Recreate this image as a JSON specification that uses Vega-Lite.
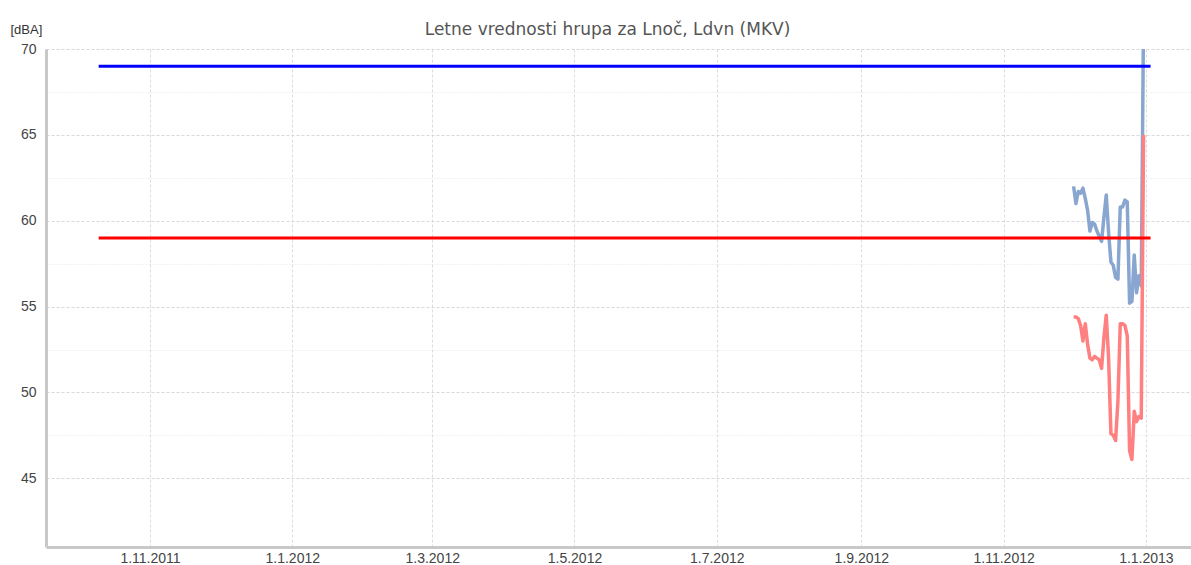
{
  "$schema": "https://vega.github.io/schema/vega-lite/v6.json",
  "width": 1145,
  "height": 498,
  "autosize": {"type": "none"},
  "padding": {"left": 46, "top": 49, "right": 0, "bottom": 18},
  "background": "#ffffff",
  "config": {
    "view": {"stroke": null},
    "font": "DejaVu Sans"
  },
  "title": {
    "text": "Letne vrednosti hrupa za Lnoč, Ldvn (MKV)",
    "font": "DejaVu Sans",
    "fontSize": 17,
    "fontWeight": "normal",
    "color": "#555555",
    "anchor": "middle",
    "baseline": "alphabetic",
    "offset": -29,
    "dx": -11
  },
  "datasets": {
    "meritve": [
      {"datum": "2012-12-01", "kazalec": "Ldvn", "vrednost": 62.0},
      {"datum": "2012-12-02", "kazalec": "Ldvn", "vrednost": 61.0},
      {"datum": "2012-12-03", "kazalec": "Ldvn", "vrednost": 61.7},
      {"datum": "2012-12-04", "kazalec": "Ldvn", "vrednost": 61.6},
      {"datum": "2012-12-05", "kazalec": "Ldvn", "vrednost": 61.9},
      {"datum": "2012-12-06", "kazalec": "Ldvn", "vrednost": 61.3},
      {"datum": "2012-12-07", "kazalec": "Ldvn", "vrednost": 60.6},
      {"datum": "2012-12-08", "kazalec": "Ldvn", "vrednost": 59.4},
      {"datum": "2012-12-09", "kazalec": "Ldvn", "vrednost": 59.9},
      {"datum": "2012-12-10", "kazalec": "Ldvn", "vrednost": 59.8},
      {"datum": "2012-12-11", "kazalec": "Ldvn", "vrednost": 59.4},
      {"datum": "2012-12-12", "kazalec": "Ldvn", "vrednost": 59.1},
      {"datum": "2012-12-13", "kazalec": "Ldvn", "vrednost": 58.8},
      {"datum": "2012-12-14", "kazalec": "Ldvn", "vrednost": 60.2},
      {"datum": "2012-12-15", "kazalec": "Ldvn", "vrednost": 61.5},
      {"datum": "2012-12-16", "kazalec": "Ldvn", "vrednost": 59.3},
      {"datum": "2012-12-17", "kazalec": "Ldvn", "vrednost": 57.6},
      {"datum": "2012-12-18", "kazalec": "Ldvn", "vrednost": 57.4},
      {"datum": "2012-12-19", "kazalec": "Ldvn", "vrednost": 56.7},
      {"datum": "2012-12-20", "kazalec": "Ldvn", "vrednost": 56.6},
      {"datum": "2012-12-21", "kazalec": "Ldvn", "vrednost": 60.8},
      {"datum": "2012-12-22", "kazalec": "Ldvn", "vrednost": 60.8},
      {"datum": "2012-12-23", "kazalec": "Ldvn", "vrednost": 61.2},
      {"datum": "2012-12-24", "kazalec": "Ldvn", "vrednost": 61.1},
      {"datum": "2012-12-25", "kazalec": "Ldvn", "vrednost": 55.2},
      {"datum": "2012-12-26", "kazalec": "Ldvn", "vrednost": 55.3},
      {"datum": "2012-12-27", "kazalec": "Ldvn", "vrednost": 58.0},
      {"datum": "2012-12-28", "kazalec": "Ldvn", "vrednost": 55.8},
      {"datum": "2012-12-29", "kazalec": "Ldvn", "vrednost": 56.8},
      {"datum": "2012-12-30", "kazalec": "Ldvn", "vrednost": 56.2},
      {"datum": "2012-12-31", "kazalec": "Ldvn", "vrednost": 72.0},
      {"datum": "2012-12-01", "kazalec": "Lnoč", "vrednost": 54.4},
      {"datum": "2012-12-02", "kazalec": "Lnoč", "vrednost": 54.4},
      {"datum": "2012-12-03", "kazalec": "Lnoč", "vrednost": 54.3},
      {"datum": "2012-12-04", "kazalec": "Lnoč", "vrednost": 53.9},
      {"datum": "2012-12-05", "kazalec": "Lnoč", "vrednost": 53.0},
      {"datum": "2012-12-06", "kazalec": "Lnoč", "vrednost": 54.0},
      {"datum": "2012-12-07", "kazalec": "Lnoč", "vrednost": 52.8},
      {"datum": "2012-12-08", "kazalec": "Lnoč", "vrednost": 52.0},
      {"datum": "2012-12-09", "kazalec": "Lnoč", "vrednost": 51.9},
      {"datum": "2012-12-10", "kazalec": "Lnoč", "vrednost": 52.1},
      {"datum": "2012-12-11", "kazalec": "Lnoč", "vrednost": 52.0},
      {"datum": "2012-12-12", "kazalec": "Lnoč", "vrednost": 51.9},
      {"datum": "2012-12-13", "kazalec": "Lnoč", "vrednost": 51.4},
      {"datum": "2012-12-14", "kazalec": "Lnoč", "vrednost": 53.2},
      {"datum": "2012-12-15", "kazalec": "Lnoč", "vrednost": 54.5},
      {"datum": "2012-12-16", "kazalec": "Lnoč", "vrednost": 52.0},
      {"datum": "2012-12-17", "kazalec": "Lnoč", "vrednost": 47.6},
      {"datum": "2012-12-18", "kazalec": "Lnoč", "vrednost": 47.5},
      {"datum": "2012-12-19", "kazalec": "Lnoč", "vrednost": 47.2},
      {"datum": "2012-12-20", "kazalec": "Lnoč", "vrednost": 49.5},
      {"datum": "2012-12-21", "kazalec": "Lnoč", "vrednost": 54.0},
      {"datum": "2012-12-22", "kazalec": "Lnoč", "vrednost": 54.0},
      {"datum": "2012-12-23", "kazalec": "Lnoč", "vrednost": 53.9},
      {"datum": "2012-12-24", "kazalec": "Lnoč", "vrednost": 53.3},
      {"datum": "2012-12-25", "kazalec": "Lnoč", "vrednost": 46.6},
      {"datum": "2012-12-26", "kazalec": "Lnoč", "vrednost": 46.1},
      {"datum": "2012-12-27", "kazalec": "Lnoč", "vrednost": 48.9},
      {"datum": "2012-12-28", "kazalec": "Lnoč", "vrednost": 48.3},
      {"datum": "2012-12-29", "kazalec": "Lnoč", "vrednost": 48.6},
      {"datum": "2012-12-30", "kazalec": "Lnoč", "vrednost": 48.5},
      {"datum": "2012-12-31", "kazalec": "Lnoč", "vrednost": 65.0}
    ],
    "meje": [
      {"datum": "2011-10-10", "kazalec": "Ldvn meja", "vrednost": 69},
      {"datum": "2013-01-03", "kazalec": "Ldvn meja", "vrednost": 69},
      {"datum": "2011-10-10", "kazalec": "Lnoč meja", "vrednost": 59},
      {"datum": "2013-01-03", "kazalec": "Lnoč meja", "vrednost": 59}
    ]
  },
  "encoding": {
    "x": {
      "field": "datum",
      "type": "temporal",
      "scale": {
        "type": "utc",
        "domain": [
          {"year": 2011, "month": 9, "date": 17, "hours": 10, "utc": true},
          {"year": 2013, "month": 1, "date": 20, "hours": 8, "utc": true}
        ]
      },
      "axis": {
        "title": null,
        "values": [1320105600000, 1325376000000, 1330560000000, 1335830400000, 1341100800000, 1346457600000, 1351728000000, 1356998400000],
        "labelExpr": "utcFormat(datum.value, '%-d.%-m.%Y')",
        "labelFont": "Liberation Sans",
        "labelFontSize": 14,
        "labelColor": "#444444",
        "labelPadding": 4,
        "labelFlush": false,
        "labelOverlap": false,
        "ticks": false,
        "domainColor": "#c8c8c8",
        "domainWidth": 3,
        "grid": true,
        "gridColor": "#dcdcdc",
        "gridDash": [3, 2],
        "gridWidth": 1
      }
    },
    "y": {
      "field": "vrednost",
      "type": "quantitative",
      "scale": {"domain": [41, 70], "nice": false, "zero": false},
      "axis": {
        "title": "[dBA]",
        "titleAngle": 0,
        "titleAlign": "left",
        "titleBaseline": "alphabetic",
        "titleX": -36,
        "titleY": -16,
        "titleFont": "Liberation Sans",
        "titleFontSize": 13,
        "titleFontWeight": "normal",
        "titleColor": "#333333",
        "values": [47.5, 52.5, 57.5, 62.5, 67.5, 45, 50, 55, 60, 65, 70],
        "labelExpr": "datum.value % 5 === 0 ? datum.label : ''",
        "labelFont": "Liberation Sans",
        "labelFontSize": 14,
        "labelColor": "#444444",
        "labelPadding": 10,
        "ticks": false,
        "domainColor": "#c8c8c8",
        "domainWidth": 3,
        "grid": true,
        "gridColor": {"condition": {"test": "datum.value % 5 === 0", "value": "#d8d8d8"}, "value": "#e4e4e4"},
        "gridDash": {"condition": {"test": "datum.value % 5 === 0", "value": [3, 2]}, "value": [1, 2]},
        "gridWidth": 1
      }
    },
    "color": {
      "field": "kazalec",
      "type": "nominal",
      "scale": {
        "domain": ["Ldvn", "Lnoč", "Ldvn meja", "Lnoč meja"],
        "range": ["#88a6cf", "#ff8080", "#0000ff", "#ff0000"]
      },
      "legend": null
    }
  },
  "layer": [
    {
      "data": {"name": "meritve"},
      "transform": [{"filter": "datum.kazalec === 'Ldvn'"}],
      "mark": {"type": "line", "strokeWidth": 3.5, "clip": true, "strokeJoin": "round"}
    },
    {
      "data": {"name": "meritve"},
      "transform": [{"filter": "datum.kazalec === 'Lnoč'"}],
      "mark": {"type": "line", "strokeWidth": 3.5, "clip": true, "strokeJoin": "round"}
    },
    {
      "data": {"name": "meje"},
      "mark": {"type": "line", "strokeWidth": 3, "clip": true, "strokeCap": "butt"}
    }
  ]
}
